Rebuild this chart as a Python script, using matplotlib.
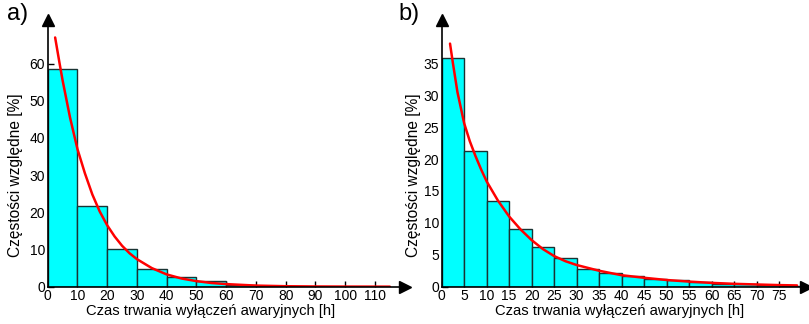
import numpy as np
import matplotlib.pyplot as plt

plt.rcParams['font.family'] = ['Liberation Sans', 'DejaVu Sans']

# panel a) - 10 h classes
edges_a = [0, 10, 20, 30, 40, 50, 60, 70, 80]
freq_a = [58.5, 21.6, 10.1, 4.8, 2.6, 1.5, 0.45, 0.2]
curve_xa = [2.5, 4, 5, 7.5, 10, 12.5, 15, 17.5, 20, 22.5, 25, 27.5, 30, 35, 40, 45, 50,
            55, 60, 70, 80, 90, 100, 115]
curve_ya = [67, 60, 55.5, 45.5, 37, 30.5, 24.8, 20.2, 16.5, 13.5, 11, 9, 7.4, 5, 3.3, 2.2,
            1.5, 1.0, 0.7, 0.3, 0.13, 0.06, 0.03, 0.01]

# panel b) - 5 h classes
edges_b = [0, 5, 10, 15, 20, 25, 30, 35, 40, 45, 50, 55, 60, 65, 70, 75, 80]
freq_b = [35.8, 21.2, 13.4, 9.0, 6.2, 4.5, 2.7, 2.2, 1.6, 1.25, 1.1, 0.75, 0.45, 0.35,
          0.25, 0.15]
curve_xb = [1.85, 2.5, 3.5, 5, 6.25, 7.5, 8.75, 10, 12.5, 15, 17.5, 20, 22.5, 25, 27.5, 30,
            35, 40, 45, 50, 55, 60, 65, 70, 75, 79]
curve_yb = [38.1, 35, 30.5, 25.6, 22.8, 20.5, 18.4, 16.5, 13.5, 11, 9, 7.3, 5.9, 4.8, 4.0,
            3.4, 2.5, 1.8, 1.4, 1.05, 0.8, 0.6, 0.45, 0.35, 0.25, 0.2]

xlabel = 'Czas trwania wyłączeń awaryjnych [h]'
ylabel = 'Częstości względne [%]'

W, H = 809, 324
fig = plt.figure(figsize=(W / 100, H / 100), dpi=100)


def make_panel(rect, edges, freq, cx, cy, xlim, ylim, xticks, yticks, tag, tagx,
               xlab_x, ylab_x):
    ax = fig.add_axes(rect)
    e = np.array(edges)
    ax.bar(e[:-1], freq, width=np.diff(e), align='edge', color='#00FFFF',
           edgecolor='#1a3333', linewidth=1.0, zorder=2)
    ax.plot(cx, cy, color='#FF0000', linewidth=1.8, zorder=3, solid_capstyle='round')
    ax.set_xlim(*xlim)
    ax.set_ylim(*ylim)
    ax.set_xticks(xticks)
    ax.set_yticks(yticks)
    for s in ['top', 'right']:
        ax.spines[s].set_visible(False)
    for s in ['left', 'bottom']:
        ax.spines[s].set_linewidth(1.2)
        ax.spines[s].set_zorder(4)
    ax.tick_params(direction='in', length=4, width=1, labelsize=10, pad=2)
    ax.plot(1, 0, '>', color='black', markersize=9, transform=ax.transAxes, clip_on=False)
    ax.plot(0, 1, '^', color='black', markersize=9, transform=ax.transAxes, clip_on=False)
    ax.set_xlabel(xlabel, fontsize=10.6)
    ax.set_ylabel(ylabel, fontsize=11.2)
    # labels centred on the tick range, not on the whole axis
    ax.xaxis.set_label_coords(xlab_x, -0.063)
    ax.yaxis.set_label_coords(ylab_x, yticks[-1] / ylim[1] / 2)
    fig.text(tagx, 0.99, tag, fontsize=17, va='top', ha='left')
    return ax


bottom = (H - 286.7) / H
height = (286.7 - 20) / H

make_panel([47.7 / W, bottom, (405 - 47.7) / W, height], edges_a, freq_a,
           curve_xa, curve_ya, (0, 120.1), (0, 71.7),
           range(0, 111, 10), range(0, 61, 10), 'a)', 7 / W, 0.455, -0.069)
make_panel([441.7 / W, bottom, (806 - 441.7) / W, height], edges_b, freq_b,
           curve_xb, curve_yb, (0, 81), (0, 41.8),
           range(0, 76, 5), range(0, 36, 5), 'b)', 398 / W, 0.487, -0.057)

fig.savefig('out.png', dpi=100)
